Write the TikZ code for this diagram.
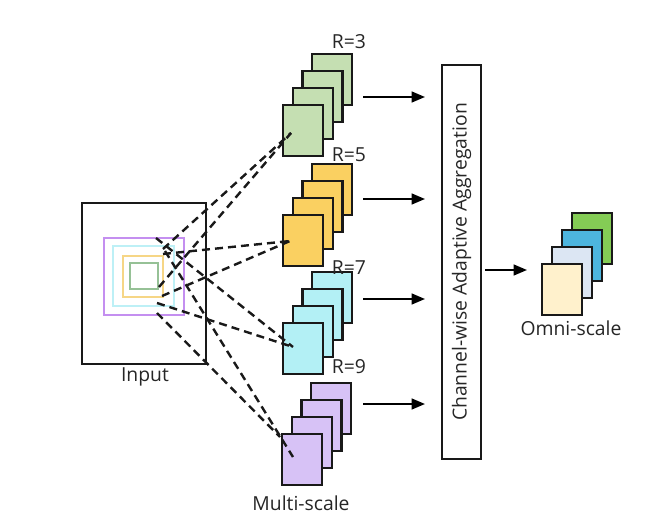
\documentclass[tikz,border=0pt]{standalone}
\usepackage{fontspec}
\setmainfont{Open Sans}
\usetikzlibrary{arrows.meta}
\definecolor{cgreen}{HTML}{C5DFB2}
\definecolor{corange}{HTML}{FAD061}
\definecolor{ccyan}{HTML}{B3F0F5}
\definecolor{cpurple}{HTML}{D7C2F6}
\definecolor{sqpurple}{HTML}{C48FF0}
\definecolor{sqcyan}{HTML}{BDF0F6}
\definecolor{sqorange}{HTML}{F6D686}
\definecolor{sqgreen}{HTML}{96C196}
\definecolor{oyellow}{HTML}{FFF1CC}
\definecolor{olblue}{HTML}{DCE6F3}
\definecolor{oblue}{HTML}{4DB5DE}
\definecolor{ogreen}{HTML}{84CC55}
\newcommand\mystack[4]{%
  \foreach \i in {3,2,1,0} {
    \node[card, fill=#4] (#1\i) at ({#2+9.7*\i},{#3-17*\i}) {};
  }%
}
\begin{document}
\begin{tikzpicture}[x=0.75pt,y=-0.75pt,
  every node/.style={font=\fontsize{14.5}{17}\selectfont, text=black!85},
  card/.style={draw=black!90, line width=1.6pt, minimum width=30pt, minimum height=38.25pt, anchor=north west, inner sep=0pt},
  sq/.style={draw=#1, line width=1.5pt, anchor=north west, inner sep=0pt},
  arr/.style={line width=1.6pt, -{Triangle[length=10pt,width=8pt]}},
  dsh/.style={line width=1.8pt, dash pattern=on 6pt off 3.8pt, black!90}]
\useasboundingbox (0,0) rectangle (669,521);

% input
\node[draw=black!90, line width=1.6pt, anchor=north west, minimum width=93pt, minimum height=120.75pt, inner sep=0pt] (input) at (81,202) {};
\node[sq=sqpurple, minimum width=60pt, minimum height=57.75pt] (sqp) at (103,237) {};
\node[sq=sqcyan, minimum width=45.75pt, minimum height=45pt] (sqc) at (112,245) {};
\node[sq=sqorange, minimum width=30pt, minimum height=30.75pt] (sqo) at (122,255) {};
\node[sq=sqgreen, minimum width=21pt, minimum height=19.5pt] (sqg) at (129,262) {};
\node (inlabel) at (145,377) {Input};

% stacks
\mystack{g}{282}{104}{cgreen}
\mystack{o}{282}{214}{corange}
\mystack{c}{282}{322}{ccyan}
\mystack{p}{281}{433}{cpurple}
\node (r3) at (349,42) {R=3};
\node (r5) at (349,155) {R=5};
\node (r7) at (349,268) {R=7};
\node (r9) at (349,367) {R=9};
\node (multi) at (301,503) {Multi-scale};

% aggregation box
\node[draw=black!90, line width=1.6pt, anchor=north west, minimum width=29.25pt, minimum height=295.5pt, inner sep=0pt] (agg) at (441,64) {};
\node[rotate=90] (aggtext) at (agg.center) {Channel-wise Adaptive Aggregation};

% arrows to aggregation
\coordinate (a1) at (363,97);
\coordinate (a2) at (363,199);
\coordinate (a3) at (363,299);
\coordinate (a4) at (363,404);
\foreach \a in {a1,a2,a3,a4} {
  \draw[arr] (\a) -- ([xshift=-12pt]\a -| agg.west);
}

% omni stack
\node[card, fill=ogreen] (w3) at (571,212) {};
\node[card, fill=oblue] (w2) at (561,229) {};
\node[card, fill=olblue] (w1) at (551,246) {};
\node[card, fill=oyellow] (w0) at (541,263) {};
\node (omni) at (571,328) {Omni-scale};
\coordinate (b0) at (485,270);
\draw[arr] (b0) -- ([xshift=-10.5pt]b0 -| w0.west);

% dashed connectors
\coordinate (sg1) at (163,249);
\coordinate (sg2) at (159,287);
\coordinate (eg) at (291,133);
\coordinate (so1) at (163,254);
\coordinate (so2) at (162,296);
\coordinate (eo) at (290,241);
\coordinate (sc1) at (156,238);
\coordinate (sc2) at (157,303);
\coordinate (ec) at (293,347);
\coordinate (sp1) at (165,251);
\coordinate (ep1) at (293,457);
\coordinate (sp2) at (157,313);
\coordinate (ep2) at (280,437);
\draw[dsh] (sg1) -- (eg);
\draw[dsh] (sg2) -- (eg);
\draw[dsh] (so1) -- (eo);
\draw[dsh] (so2) -- (eo);
\draw[dsh] (sc1) -- (ec);
\draw[dsh] (sc2) -- (ec);
\draw[dsh] (sp1) -- (ep1);
\draw[dsh] (sp2) -- (ep2);
\end{tikzpicture}
\end{document}
